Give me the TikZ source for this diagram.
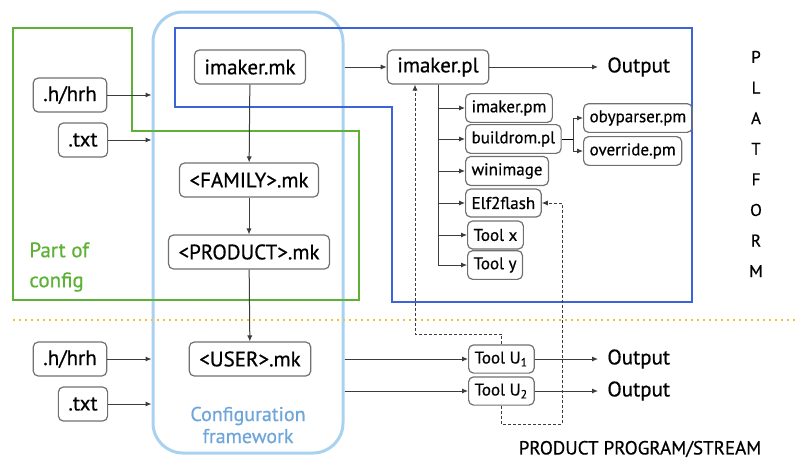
\documentclass[tikz,border=0pt]{standalone}
\usepackage{fontspec}
\setmainfont{PT Sans}[FakeBold=0.6]
\usetikzlibrary{arrows.meta}

\definecolor{cfgblue}{HTML}{A9D1F0}
\definecolor{cfgtext}{HTML}{6FA6DA}
\definecolor{partgreen}{HTML}{5DB135}
\definecolor{platblue}{HTML}{3B63DA}
\definecolor{lineyellow}{HTML}{F2C230}
\definecolor{boxgray}{HTML}{707070}
\definecolor{linegray}{HTML}{3C3C3C}

\begin{document}
\begin{tikzpicture}[x=0.5pt,y=-0.5pt,
    file/.style={draw=boxgray,rounded corners=2.5pt,line width=0.6pt,font=\fontsize{10.5}{12}\selectfont,minimum height=17pt,inner xsep=5pt},
    tool/.style={file,font=\fontsize{8.5}{10}\selectfont,minimum height=14pt,anchor=west,inner xsep=3pt},
    flow/.style={draw=linegray,line width=0.5pt,-{Latex[length=3pt,width=2.6pt]}},
    link/.style={draw=linegray,line width=0.5pt,dash pattern=on 1.5pt off 1pt,-{Latex[length=3pt,width=2.6pt]}},
    outtext/.style={font=\fontsize{10.5}{12}\selectfont,anchor=west,inner xsep=4.5pt,inner ysep=0pt}]
\useasboundingbox (0,0) rectangle (795,457);

% frames
\node (cfg) at (248,232.5) [draw=cfgblue,line width=1.5pt,rounded corners=15pt,minimum width=95pt,minimum height=220.5pt] {};
\draw[partgreen,line width=1pt] (13,28) -- (132,28) -- (132,131) -- (359,131) -- (359,300) -- (13,300) -- cycle;
\draw[platblue,line width=1pt] (175,28) -- (692,28) -- (692,302) -- (392,302) -- (392,107) -- (175,107) -- cycle;
\draw[lineyellow,line width=1pt,dotted] (13,320) -- (795,320);

% configuration chain
\node (mk) at (250,67) [file] {imaker.mk};
\node (fam) at (249,180) [file] {<FAMILY>.mk};
\node (prod) at (249,252) [file] {<PRODUCT>.mk};
\node (user) at (250,359) [file] {<USER>.mk};
\node (hrhA) at (70,95) [file] {.h/hrh};
\node (txtA) at (83,140) [file] {.txt};
\node (hrhB) at (70,359) [file] {.h/hrh};
\node (txtB) at (83,404) [file] {.txt};
\node (cfgname) at (248,425) [text=cfgtext,align=center,font=\fontsize{10}{11}\selectfont] {Configuration\\framework};
\node (partof) at (29,267) [anchor=west,inner sep=0pt,text=partgreen,align=left,font=\fontsize{10.5}{15}\selectfont] {Part of\\config};

\draw[flow] (mk) -- (fam);
\draw[flow] (fam) -- (prod);
\draw[flow] (prod) -- (user);
\draw[flow] (hrhA) -- (hrhA -| cfg.west);
\draw[flow] (txtA) -- (txtA -| cfg.west);
\draw[flow] (hrhB) -- (hrhB -| cfg.west);
\draw[flow] (txtB) -- (txtB -| cfg.west);

% platform tools
\node (pl) at (438,67) [file] {imaker.pl};
\node (out1) at (598,67) [outtext] {Output};
\node (pm) at (465,108) [tool] {imaker.pm};
\node (bpl) at (465,139) [tool] {buildrom.pl};
\node (win) at (465,171) [tool] {winimage};
\node (elf) at (465,203) [tool] {Elf2flash};
\node (tx) at (467,235) [tool] {Tool x};
\node (ty) at (467,265) [tool] {Tool y};
\node (oby) at (583,118) [tool] {obyparser.pm};
\node (ovr) at (583,151) [tool] {override.pm};
\coordinate (split) at (573,139);

\draw[flow] (mk -| cfg.east) -- (pl);
\draw[flow] (pl) -- (out1);
\draw[flow] (pl.south) |- (pm.west);
\draw[flow] (pl.south) |- (bpl.west);
\draw[flow] (pl.south) |- (win.west);
\draw[flow] (pl.south) |- (elf.west);
\draw[flow] (pl.south) |- (tx.west);
\draw[flow] (pl.south) |- (ty.west);
\draw (bpl.east) -- (split);
\draw[flow] (split) |- (oby.west);
\draw[flow] (split) |- (ovr.west);

% user tools
\node (u1) at (468,359) [tool] {Tool U\textsubscript{1}};
\node (u2) at (468,391) [tool] {Tool U\textsubscript{2}};
\node (out2) at (598,359) [outtext] {Output};
\node (out3) at (598,391) [outtext] {Output};
\coordinate (up) at (415,334);
\coordinate (dn) at (562,424);

\draw[flow] (user -| cfg.east) -- (u1);
\draw[flow] (u2 -| cfg.east) -- (u2);
\draw[flow] (u1) -- (out2);
\draw[flow] (u2) -- (out3);
\draw[link] (u1.north) |- (up) -- (up |- pl.south);
\draw[link] (u2.south) |- (dn) |- (elf.east);

% side labels
\node (plat) at (756,164) [align=center,font=\fontsize{8.5}{15.3}\selectfont] {P\\L\\A\\T\\F\\O\\R\\M};
\node (stream) at (640,449) [font=\fontsize{9.5}{11}\selectfont] {PRODUCT PROGRAM/STREAM};
\end{tikzpicture}
\end{document}
